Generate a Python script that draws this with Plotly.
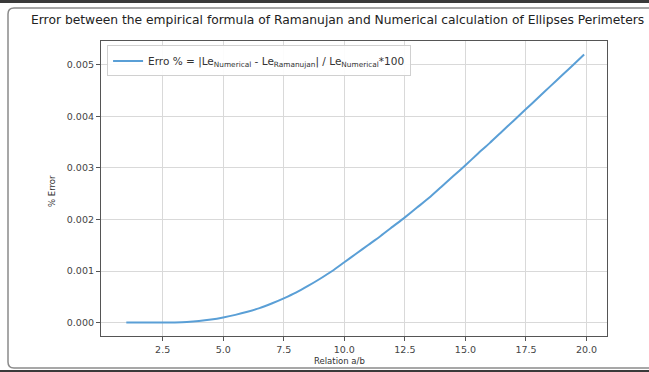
import plotly.graph_objects as go

# Data
relation_ab = [1, 1.5, 2, 2.5, 3, 3.5, 4, 4.5, 5, 5.5, 6, 6.5, 7, 7.5, 8, 8.5, 9, 9.5,
               10, 10.5, 11, 11.5, 12, 12.5, 13, 13.5, 14, 14.5, 15, 15.5, 16, 16.5,
               17, 17.5, 18, 18.5, 19, 19.5, 19.9]
error_pct = [0.0, 0.0, 0.0, 0.000001, 0.000004, 0.000012, 0.00003, 0.00006, 0.0001,
             0.00015, 0.00021, 0.00028, 0.00037, 0.00047, 0.00058, 0.00071, 0.00085,
             0.001, 0.00117, 0.00134, 0.00151, 0.00168, 0.00186, 0.00204, 0.00223,
             0.00242, 0.00263, 0.00284, 0.00305, 0.00327, 0.00348, 0.0037, 0.00392,
             0.00414, 0.00436, 0.00458, 0.0048, 0.00502, 0.0052]
x_ticks = [2.5, 5.0, 7.5, 10.0, 12.5, 15.0, 17.5, 20.0]
y_ticks = [0.000, 0.001, 0.002, 0.003, 0.004, 0.005]

W, H = 649, 372
L, R, T, B = 101, 42, 41, 36

legend_name = ("Erro % = |Le<sub>Numerical</sub> - Le<sub>Ramanujan</sub>| / "
               "Le<sub>Numerical</sub>*100")

fig = go.Figure()
fig.add_trace(go.Scatter(
    x=relation_ab, y=error_pct, mode="lines", name=legend_name,
    line=dict(color="#5a9fd6", width=2, shape="spline", smoothing=0.6),
    showlegend=True,
))

font = "DejaVu Sans, Liberation Sans, sans-serif"

fig.update_layout(
    width=W, height=H,
    margin=dict(l=L, r=R, t=T, b=B),
    paper_bgcolor="white", plot_bgcolor="white",
    font=dict(family=font, size=10, color="#333"),
    showlegend=True,
    legend=dict(
        x=0.012, y=0.985, xanchor="left", yanchor="top",
        bgcolor="rgba(255,255,255,0.9)", bordercolor="#d0d0d0", borderwidth=1,
        font=dict(size=10.5, color="#333"),
        itemwidth=30, tracegroupgap=0,
    ),
    xaxis=dict(
        range=[-0.045, 20.845], tickvals=x_ticks, tickformat=".1f",
        showgrid=True, gridcolor="#d9d9d9", gridwidth=1,
        showline=True, linecolor="#555", linewidth=1.2, mirror=True,
        ticks="outside", ticklen=4, tickcolor="#555",
        tickfont=dict(size=9.5, color="#444"), zeroline=False,
    ),
    yaxis=dict(
        range=[-0.00026, 0.00546], tickvals=y_ticks, tickformat=".3f",
        showgrid=True, gridcolor="#d9d9d9", gridwidth=1,
        showline=True, linecolor="#555", linewidth=1.2, mirror=True,
        ticks="outside", ticklen=4, tickcolor="#555",
        tickfont=dict(size=9.5, color="#444"), zeroline=False,
    ),
    annotations=[
        dict(text="Error between the empirical formula of Ramanujan and Numerical calculation of Ellipses Perimeters",
             xref="paper", yref="paper",
             x=(337 - L) / (W - L - R), y=1 + (T - 20) / (H - T - B),
             xanchor="center", yanchor="middle", showarrow=False,
             font=dict(size=12.3, color="#222")),
        dict(text="Relation a/b", xref="paper", yref="paper",
             x=(339 - L) / (W - L - R), y=-(361 - (H - B)) / (H - T - B),
             xanchor="center", yanchor="middle", showarrow=False,
             font=dict(size=8.5, color="#333")),
        dict(text="% Error", xref="paper", yref="paper", textangle=-90,
             x=-(L - 52) / (W - L - R), y=(H - B - 191) / (H - T - B),
             xanchor="center", yanchor="middle", showarrow=False,
             font=dict(size=8.5, color="#333")),
    ],
)

# Frame around the chart card (as in the screenshot)
def to_paper_x(p):
    return (p - L) / (W - L - R)

def to_paper_y(p):
    return (H - B - p) / (H - T - B)

shapes = [
    dict(type="rect", xref="paper", yref="paper",
         x0=to_paper_x(-2), x1=to_paper_x(W + 2), y0=to_paper_y(3), y1=to_paper_y(-2),
         fillcolor="#3a3a3a", line=dict(width=0), layer="above"),
    dict(type="path", xref="paper", yref="paper",
         path=(f"M {to_paper_x(W + 5)},{to_paper_y(8)} "
               f"L {to_paper_x(14)},{to_paper_y(8)} "
               f"Q {to_paper_x(8)},{to_paper_y(8)} {to_paper_x(8)},{to_paper_y(14)} "
               f"L {to_paper_x(8)},{to_paper_y(362)} "
               f"Q {to_paper_x(8)},{to_paper_y(368)} {to_paper_x(14)},{to_paper_y(368)} "
               f"L {to_paper_x(W + 5)},{to_paper_y(368)}"),
         line=dict(color="#8a8a8a", width=1.5), layer="above"),
    dict(type="rect", xref="paper", yref="paper",
         x0=to_paper_x(-2), x1=to_paper_x(W + 2), y0=to_paper_y(H + 2), y1=to_paper_y(370),
         fillcolor="#3a3a3a", line=dict(width=0), layer="above"),
]
fig.update_layout(shapes=shapes)

fig.write_html("out.html")
